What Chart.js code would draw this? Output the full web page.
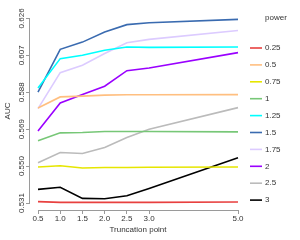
<!DOCTYPE html>
<html><head><meta charset="utf-8">
<script src="https://cdn.jsdelivr.net/npm/chart.js@4"></script>
<style>html,body{margin:0;padding:0;background:#fff;}canvas{display:block;}</style>
</head><body>
<canvas id="c" width="300" height="240"></canvas>
<script>
const truncation = [0.5, 1.0, 1.5, 2.0, 2.5, 3.0, 5.0];
const powers = ['0.25','0.5','0.75','1','1.25','1.5','1.75','2','2.5','3'];
const p025 = [0.5317,0.5313,0.5313,0.5313,0.5313,0.5313,0.5315];
const p05  = [0.5799,0.5856,0.5860,0.5865,0.5867,0.5867,0.5868];
const p075 = [0.5495,0.5502,0.5490,0.5493,0.5493,0.5494,0.5495];
const p1   = [0.5630,0.5671,0.5673,0.5678,0.5678,0.5678,0.5676];
const p125 = [0.5902,0.6053,0.6070,0.6096,0.6113,0.6111,0.6113];
const p15  = [0.5881,0.6101,0.6138,0.6190,0.6228,0.6238,0.6255];
const p175 = [0.5796,0.5981,0.6019,0.6079,0.6135,0.6152,0.6198];
const p2   = [0.5681,0.5825,0.5868,0.5911,0.5991,0.6005,0.6084];
const p25  = [0.5517,0.5570,0.5565,0.5596,0.5647,0.5690,0.5801];
const p3   = [0.5380,0.5391,0.5334,0.5332,0.5347,0.5385,0.5543];
const yTicks = [0.531, 0.550, 0.569, 0.588, 0.607, 0.626];
const xTicks = [0.5, 1.0, 1.5, 2.0, 2.5, 3.0, 5.0];

const series = [p025,p05,p075,p1,p125,p15,p175,p2,p25,p3];
const colors = ['#e8403f','#ffbf80','#e6e600','#77c777','#00ffff','#3a6bb0','#dccbff','#9a00ff','#bbbbbb','#000000'];

const datasets = series.map((s,i)=>({
  label: powers[i],
  data: s.map((v,j)=>({x: truncation[j], y: v})),
  borderColor: colors[i],
  backgroundColor: colors[i],
  borderWidth: 1.6,
  pointRadius: 0,
  tension: 0,
  fill: false
}));

const FONT = 'Liberation Sans, Arial, sans-serif';
const axisColor = '#9a9a9a';
const textColor = '#333';

const axisLines = {
  id: 'axisLines',
  afterDraw(chart){
    const ctx = chart.ctx, xs = chart.scales.x, ys = chart.scales.y;
    ctx.save();
    ctx.strokeStyle = axisColor; ctx.lineWidth = 1;
    const yb = chart.chartArea.bottom + 0.5;
    ctx.beginPath();
    ctx.moveTo(xs.getPixelForValue(xTicks[0]), yb);
    ctx.lineTo(xs.getPixelForValue(xTicks[xTicks.length-1]), yb);
    ctx.stroke();
    const xl = chart.chartArea.left - 0.5;
    ctx.beginPath();
    ctx.moveTo(xl, ys.getPixelForValue(yTicks[0]));
    ctx.lineTo(xl, ys.getPixelForValue(yTicks[yTicks.length-1]));
    ctx.stroke();
    // legend
    ctx.font = '8px ' + FONT;
    ctx.fillStyle = textColor;
    ctx.textBaseline = 'middle';
    ctx.textAlign = 'left';
    ctx.fillText('power', 265, 18);
    chart.data.datasets.forEach((d,i)=>{
      const y = 48 + i*16.9;
      ctx.strokeStyle = d.borderColor; ctx.lineWidth = 1.6;
      ctx.beginPath(); ctx.moveTo(250, y); ctx.lineTo(262, y); ctx.stroke();
      ctx.fillText(d.label, 265, y);
    });
    ctx.restore();
  }
};

new Chart(document.getElementById('c'), {
  type: 'line',
  data: { datasets },
  options: {
    responsive: false,
    animation: false,
    devicePixelRatio: 1,
    layout: { padding: { top: 12, right: 54, left: 0, bottom: 0 } },
    plugins: { legend: { display: false }, tooltip: { enabled: false } },
    scales: {
      x: {
        type: 'linear', min: 0.32, max: 5.18,
        afterBuildTicks: s => { s.ticks = xTicks.map(v=>({value:v})); },
        afterFit: s => { s.height = 30; },
        grid: { drawOnChartArea: false, tickLength: 4, color: axisColor },
        border: { display: false },
        ticks: { font: { size: 8, family: FONT }, color: textColor, padding: 0,
          maxRotation: 0, minRotation: 0, autoSkip: false,
          callback: v => Number(v).toFixed(1) },
        title: { display: true, text: 'Truncation point', font: { size: 8, family: FONT }, color: textColor, padding: { top: 0, bottom: 5 } }
      },
      y: {
        type: 'linear', min: 0.5274, max: 0.6293,
        afterBuildTicks: s => { s.ticks = yTicks.map(v=>({value:v})); },
        afterFit: s => { s.width = 30; },
        grid: { drawOnChartArea: false, tickLength: 4, color: axisColor },
        border: { display: false },
        ticks: { font: { size: 8, family: FONT }, color: textColor, padding: -6,
          minRotation: 90, maxRotation: 90, crossAlign: 'center', autoSkip: false,
          callback: v => Number(v).toFixed(3) },
        title: { display: true, text: 'AUC', font: { size: 8, family: FONT }, color: textColor, padding: { top: 3, bottom: 0 } }
      }
    }
  },
  plugins: [axisLines]
});
</script>
</body></html>
